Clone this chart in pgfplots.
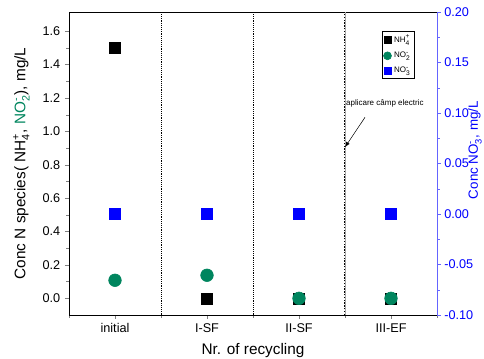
\documentclass[border=0pt]{standalone}
\usepackage{amsmath}
\usepackage{fontspec}
\setmainfont{Liberation Sans}
\usepackage{pgfplots}
\pgfplotsset{compat=1.18}
\usetikzlibrary{calc}
\definecolor{grn}{RGB}{0,133,94}
\definecolor{blu}{RGB}{0,0,255}
\definecolor{axblue}{RGB}{100,100,255}
\newcommand\ion[2]{$_{\text{#1}}^{\text{#2}}$}
\begin{document}
\begin{tikzpicture}
\begin{axis}[name=ax, scale only axis, width=276pt, height=227.25pt,
  xmin=-0.5, xmax=3.5, ymin=-0.1, ymax=1.715,
  xtick={0,1,2,3}, xticklabels={initial,I-SF,II-SF,III-EF},
  minor xtick={-0.5,0.5,1.5,2.5,3.5},
  xtick pos=bottom, ytick pos=left, tick align=outside,
  ytick={0,0.2,...,1.6}, minor y tick num=1,
  major tick length=3pt, minor tick length=2pt,
  /pgf/number format/assume math mode=true,
  /pgf/number format/.cd, fixed, fixed zerofill, precision=1, /pgfplots/.cd,
  tick label style={font=\fontsize{9.5}{10}\selectfont},
  label style={font=\fontsize{11.5}{13}\selectfont},
  xlabel={Nr. of recycling},
  ylabel={Conc N species( NH\ion{4}{+}, \textcolor{grn}{NO\ion{2}{-}}), mg/L},
  xlabel style={yshift=-1pt},
  ylabel style={yshift=3pt},
  legend style={at={(0.851,0.937)}, anchor=north west, font=\fontsize{6}{6.5}\selectfont,
    draw=black, inner sep=0.8pt, row sep=1.8pt, cells={anchor=west}},
  legend cell align=left,
  clip=false,
]
\draw[densely dotted, black] (axis cs:0.5,-0.1) -- (axis cs:0.5,1.715);
\draw[densely dotted, black] (axis cs:1.5,-0.1) -- (axis cs:1.5,1.715);
\draw[densely dotted, black, line width=1.1pt] (axis cs:2.5,-0.1) -- (axis cs:2.5,1.715);
\draw[gray!70, line width=0.3pt] (axis cs:2.5,-0.1) -- (axis cs:2.5,1.715);
\addplot[only marks, mark=square*, mark size=4.1pt, black, forget plot] coordinates {(0,1.5) (1,0) (2,0) (3,0)};
\addplot[only marks, mark=*, mark size=4.75pt, grn, forget plot] coordinates {(0,0.108) (1,0.138) (2,0) (3,0)};
\addlegendimage{only marks, mark=square*, mark size=2.6pt, black}
\addlegendentry{NH\ion{4}{+}}
\addlegendimage{only marks, mark=*, mark size=3pt, grn}
\addlegendentry{NO\ion{2}{-}}
\addlegendimage{only marks, mark=square*, mark size=2.6pt, blu}
\addlegendentry{NO\ion{3}{-}}
\draw[-latex, thin] (axis cs:2.717,1.084) -- (axis cs:2.5,0.905);
\node[anchor=west, font=\fontsize{6}{7}\selectfont, inner sep=0pt] at (axis cs:2.51,1.168) {aplicare câmp electric};
\end{axis}
\begin{axis}[scale only axis, width=276pt, height=227.25pt,
  xmin=-0.5, xmax=3.5, ymin=-0.1, ymax=0.2,
  axis x line=none, axis y line*=right, tick align=outside,
  ytick={-0.1,-0.05,...,0.2}, minor y tick num=1,
  major tick length=3pt, minor tick length=2pt,
  axis line style={axblue}, y tick style={axblue},
  yticklabel style={blu, xshift=-1pt},
  /pgf/number format/assume math mode=true,
  /pgf/number format/.cd, fixed, fixed zerofill, precision=2, /pgfplots/.cd,
  tick label style={font=\fontsize{9.5}{10}\selectfont},
  label style={font=\fontsize{10}{11}\selectfont},
  ylabel={\textcolor{blu}{Conc NO\ion{3}{-}, mg/L}},
  ylabel style={inner sep=0pt, yshift=7.3pt, xshift=10pt},
]
\addplot[only marks, mark=square*, mark size=4.1pt, blu] coordinates {(0,0) (1,0) (2,0) (3,0)};
\end{axis}
\pgfresetboundingbox
\path[use as bounding box] ($(ax.south west)+(-51.75pt,-33pt)$) rectangle ($(ax.north east)+(35.25pt,9pt)$);
\end{tikzpicture}
\end{document}
